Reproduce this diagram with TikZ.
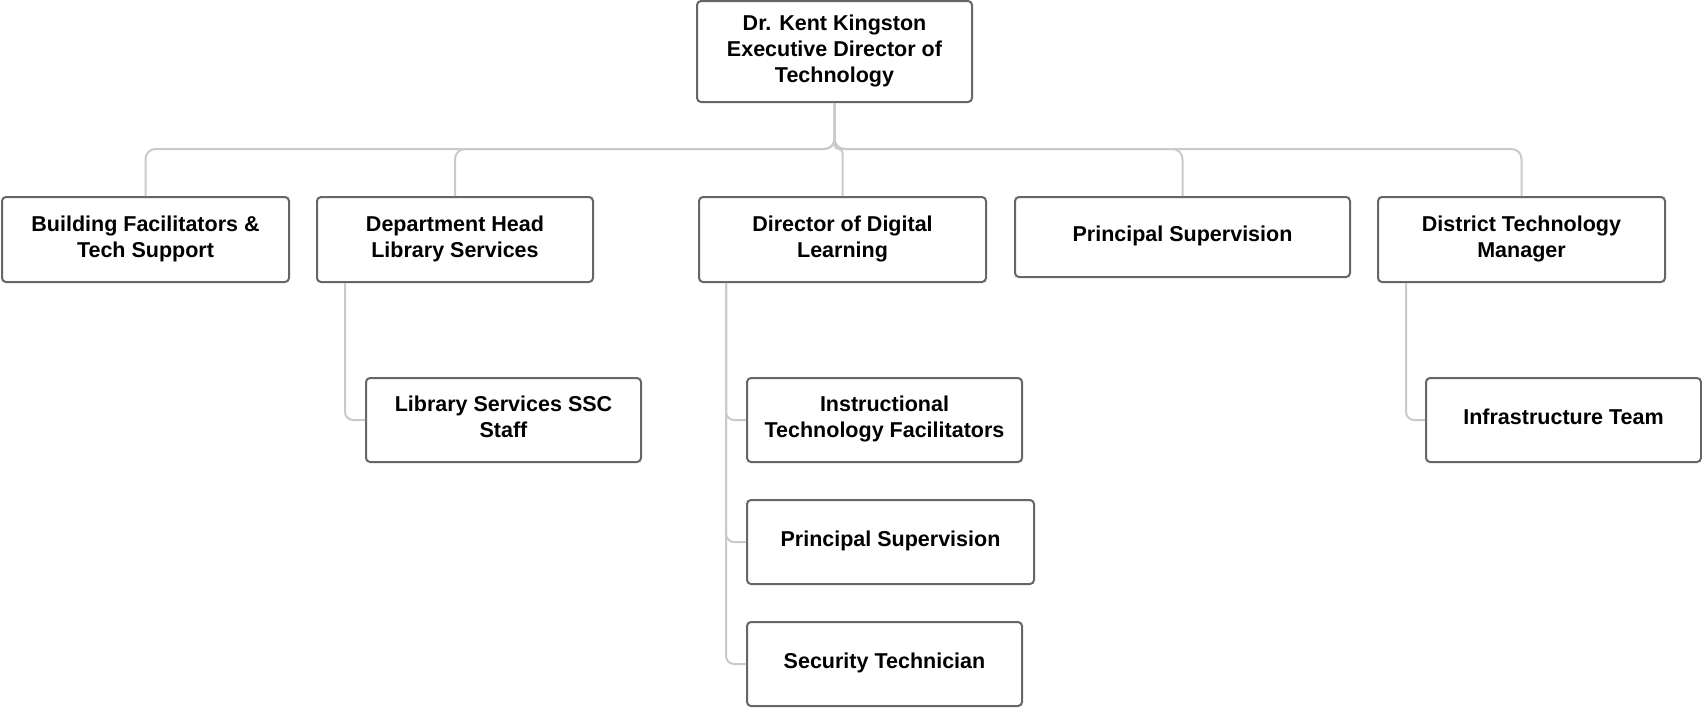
\documentclass[tikz,border=0pt]{standalone}
\usepackage{fontspec}
\setmainfont{Liberation Sans}
\usetikzlibrary{calc}
\definecolor{boxline}{HTML}{666666}
\definecolor{conn}{HTML}{CACACA}
\newcommand\bt[1]{\raisebox{0.6pt}[\height][\depth]{\begin{tabular}{@{}c@{}}#1\end{tabular}}}
\begin{document}
\begin{tikzpicture}[x=1pt,y=-1pt,
  orgbox/.style={draw=boxline, line width=2pt, rounded corners=4pt, fill=white,
    inner sep=0pt, minimum height=85pt,
    font=\fontsize{21.5pt}{26pt}\selectfont\bfseries},
  link/.style={draw=conn, line width=2pt, rounded corners=10pt},
  sublink/.style={draw=conn, line width=2pt, rounded corners=8pt}]
\useasboundingbox (0,0) rectangle (1702,710);
% nodes
\node[orgbox, minimum width=275pt, minimum height=101pt] (top) at (834.5,51.5) {\bt{Dr. Kent Kingston\\Executive Director of\\Technology}};
\node[orgbox, minimum width=287pt] (bf) at (145.5,239.5) {\bt{Building Facilitators \&\\Tech Support}};
\node[orgbox, minimum width=276pt] (dh) at (455,239.5) {\bt{Department Head\\Library Services}};
\node[orgbox, minimum width=287pt] (dd) at (842.5,239.5) {\bt{Director of Digital\\Learning}};
\node[orgbox, minimum width=335pt, minimum height=80pt] (ps1) at (1182.5,237) {\bt{Principal Supervision}};
\node[orgbox, minimum width=287pt] (dt) at (1521.5,239.5) {\bt{District Technology\\Manager}};
\node[orgbox, minimum width=275pt, minimum height=84pt] (ls) at (503.5,420) {\bt{Library Services SSC\\Staff}};
\node[orgbox, minimum width=275pt, minimum height=84pt] (it) at (884.5,420) {\bt{Instructional\\Technology Facilitators}};
\node[orgbox, minimum width=287pt, minimum height=84pt] (ps2) at (890.5,542) {\bt{Principal Supervision}};
\node[orgbox, minimum width=275pt, minimum height=84pt] (st) at (884.5,664) {\bt{Security Technician}};
\node[orgbox, minimum width=275pt, minimum height=84pt] (inf) at (1563.5,420) {\bt{Infrastructure Team}};
% bus
\coordinate (bus) at (0,149);
\path[link] (top.south) -- (top.south |- bus) -- (bf.north |- bus) -- (bf.north);
\path[link] (top.south) -- (top.south |- bus) -- (dh.north |- bus) -- (dh.north);
\path[link, rounded corners=4pt] (top.south) -- (top.south |- bus) -- (dd.north |- bus) -- (dd.north);
\path[link] (top.south) -- (top.south |- bus) -- (ps1.north |- bus) -- (ps1.north);
\path[link] (top.south) -- (top.south |- bus) -- (dt.north |- bus) -- (dt.north);
% sub links
\path[sublink] ([xshift=29pt]dh.south west) |- (ls.west);
\path[sublink] ([xshift=28pt]dd.south west) |- (it.west);
\path[sublink] ([xshift=28pt]dd.south west) |- (ps2.west);
\path[sublink] ([xshift=28pt]dd.south west) |- (st.west);
\path[sublink] ([xshift=29pt]dt.south west) |- (inf.west);
\end{tikzpicture}
\end{document}
